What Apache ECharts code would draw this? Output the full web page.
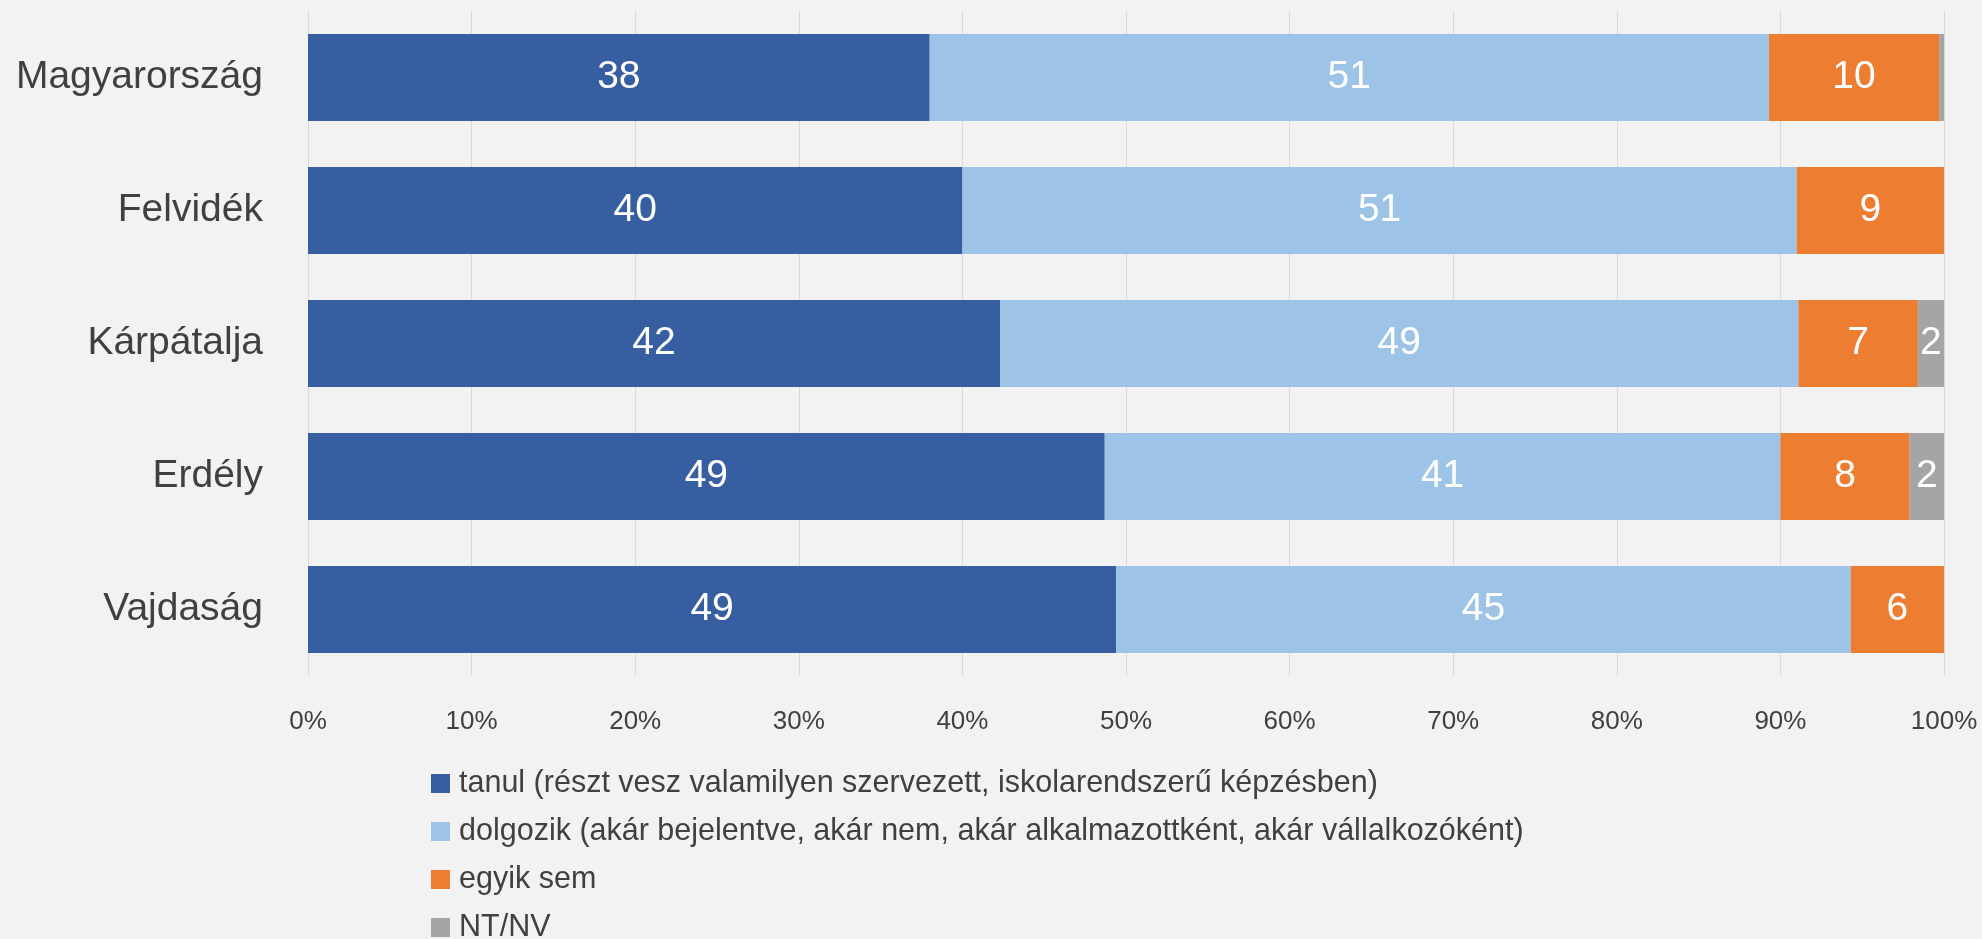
<!DOCTYPE html>
<html>
<head>
<meta charset="utf-8">
<script src="https://cdn.jsdelivr.net/npm/echarts@6/dist/echarts.min.js"></script>
<style>
  html, body { margin: 0; padding: 0; background: #f2f2f2; }
  #main { width: 1982px; height: 939px; }
</style>
</head>
<body>
<div id="main"></div>
<script>
// régiók (felülről lefelé)
var regions = ['Magyarország', 'Felvidék', 'Kárpátalja', 'Erdély', 'Vajdaság'];

// sorozatok neve
var seriesNames = [
  'tanul (részt vesz valamilyen szervezett, iskolarendszerű képzésben)',
  'dolgozik (akár bejelentve, akár nem, akár alkalmazottként, akár vállalkozóként)',
  'egyik sem',
  'NT/NV'
];

// százalékok régiónként
var tanul    = [38.0, 40.0, 42.3, 48.7, 49.4];
var dolgozik = [51.3, 51.0, 48.8, 41.3, 44.9];
var egyikSem = [10.4, 9.0, 7.3, 7.9, 5.7];
var ntnv     = [0.3, 0, 1.6, 2.1, 0];

// tengely feliratai
var xTicks = [0, 10, 20, 30, 40, 50, 60, 70, 80, 90, 100];

var colors = ['#365ea1', '#9dc3e6', '#ed7d31', '#a5a5a5'];
var font = "'Liberation Sans Narrow', 'Arial Narrow', 'Liberation Sans', Arial, sans-serif";

var myChart = echarts.init(document.getElementById('main'));

function makeSeries(name, data) {
  return {
    name: name,
    type: 'bar',
    stack: 'total',
    barWidth: 87,
    data: data,
    label: {
      show: true,
      position: 'inside',
      color: '#ffffff',
      fontFamily: font,
      fontSize: 39,
      formatter: function (p) {
        return p.value >= 1 ? Math.round(p.value) : '';
      }
    }
  };
}

myChart.setOption({
  backgroundColor: '#f2f2f2',
  color: colors,
  textStyle: { fontFamily: font },
  grid: { left: 308, right: 38, top: 11, height: 665, outerBoundsMode: 'none' },
  legend: {
    orient: 'vertical',
    left: 431,
    top: 768,
    height: 200,
    padding: 0,
    icon: 'rect',
    itemWidth: 19,
    itemHeight: 19,
    itemGap: 17,
    selectedMode: false,
    textStyle: {
      fontFamily: font,
      fontSize: 30.5,
      lineHeight: 30,
      color: '#404040',
      padding: [0, 0, 0, 4]
    },
    data: seriesNames
  },
  xAxis: {
    type: 'value',
    min: xTicks[0],
    max: xTicks[xTicks.length - 1],
    interval: 10,
    axisLine: { show: false },
    axisTick: { show: false },
    splitLine: { show: true, lineStyle: { color: '#d9d9d9', width: 1 } },
    axisLabel: {
      formatter: '{value}%',
      fontFamily: font,
      fontSize: 26,
      color: '#404040',
      margin: 33
    }
  },
  yAxis: {
    type: 'category',
    inverse: true,
    data: regions,
    axisLine: { show: false },
    axisTick: { show: false },
    axisLabel: {
      fontFamily: font,
      fontSize: 39,
      color: '#404040',
      margin: 45
    }
  },
  series: [
    makeSeries(seriesNames[0], tanul),
    makeSeries(seriesNames[1], dolgozik),
    makeSeries(seriesNames[2], egyikSem),
    makeSeries(seriesNames[3], ntnv)
  ]
});
</script>
</body>
</html>
